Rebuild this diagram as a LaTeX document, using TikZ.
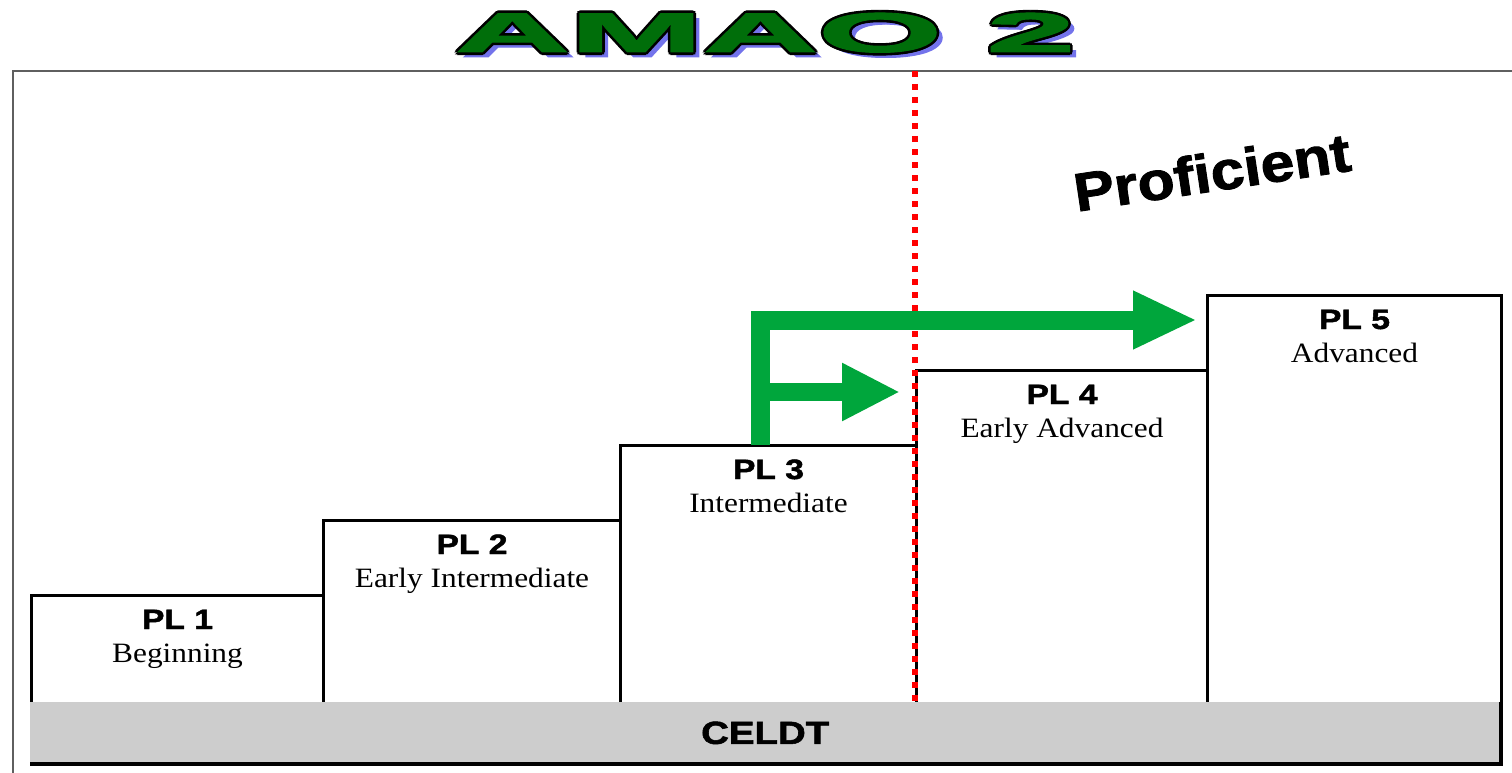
\documentclass[tikz,border=0pt]{standalone}
\usepackage{fontspec}
\setmainfont{Liberation Serif}
\setsansfont{Liberation Sans}
\newfontface\blacksans{Liberation Sans Bold}[FakeBold=1.6]
\usetikzlibrary{arrows.meta,calc}
\definecolor{arrowgreen}{RGB}{0,166,60}
\definecolor{titlegreen}{RGB}{0,110,10}
\definecolor{shadowblue}{RGB}{115,115,235}
\definecolor{bargray}{RGB}{205,205,205}
\definecolor{framegray}{RGB}{95,95,95}
\newcommand\amaotext{\scalebox{2.85}[1]{AMAO 2}}
\begin{document}
\begin{tikzpicture}[x=1pt,y=-1pt,
  stepbox/.style={draw=black,line width=3pt,anchor=north west,inner sep=0pt,minimum width=#1},
  pltext/.style={anchor=base,inner sep=0pt,font=\blacksans\fontsize{28}{30}\selectfont},
  subtext/.style={anchor=base,inner sep=0pt,font=\rmfamily\fontsize{28}{30}\selectfont},
  titlefont/.style={anchor=base,inner sep=0pt,font=\blacksans\fontsize{56}{56}\selectfont},
  garrow/.style={draw=arrowgreen,line join=miter},
]
\useasboundingbox (0,0) rectangle (1512,773);
% frame
\coordinate (ftl) at (13,71);
\coordinate (ftr) at (1512,71);
\coordinate (fbl) at (13,773);
\draw[framegray,line width=2.5pt] (fbl) -- (ftl) -- (ftr);
% steps
\node[stepbox=292pt,minimum height=169pt] (s1) at (30,594) {};
\node[stepbox=297pt,minimum height=244pt] (s2) at (322,519) {};
\node[stepbox=296pt,minimum height=319pt] (s3) at (619,444) {};
\node[stepbox=291pt,minimum height=394pt] (s4) at (915,369) {};
\node[stepbox=294pt,minimum height=469pt] (s5) at (1206,294) {};
% CELDT bar
\node[fill=bargray,anchor=north west,inner sep=0pt,minimum width=1470pt,minimum height=62pt] (celdt) at (30,701.5) {};
\draw[black,line width=3pt] (celdt.south west) -- (celdt.south east) -- (celdt.north east);
\node[pltext,font=\blacksans\fontsize{32}{34}\selectfont] (celdtlabel) at ($(celdt.south)+(0,-20)$) {\scalebox{1.2}[1]{CELDT}};
% labels
\foreach \s/\n/\t in {s1/1/Beginning,s2/2/Early Intermediate,s3/3/Intermediate,s4/4/Early Advanced,s5/5/Advanced}{
  \node[pltext] (pl\n) at ($(\s.north)+(0,35)$) {\scalebox{1.2}[1]{PL \n}};
  \node[subtext] (sub\n) at ($(\s.north)+(0,68)$) {\scalebox{1.12}[1]{\t}};
}
% red dotted line
\draw[red,line width=6pt,dash pattern=on 6pt off 7pt] (s4.west |- ftl) -- (s4.west |- celdt.north);
% green arrows
\coordinate (gstart) at (760,445);
\coordinate (gtip5) at (1197,320);
\coordinate (gmid) at (760,392);
\coordinate (gtip4) at (900,392);
\draw[garrow,line width=19pt,-{Triangle[length=64pt,width=54pt]}] (gstart) |- (gtip5);
\draw[garrow,line width=18pt,-{Triangle[length=58pt,width=54pt]}] (gmid) -- (gtip4);
% Proficient
\node[inner sep=0pt,rotate=8.5,font=\blacksans\fontsize{54}{56}\selectfont] (prof) at (1212,172) {\scalebox{1.12}[1]{Proficient}};
% title
\coordinate (title) at (765,52);
\node[titlefont,text=shadowblue] (titleshadow) at ($(title)+(6,5)$) {\amaotext};
\foreach \a in {0,45,...,315}{
  \node[titlefont,text=black] at ($(title)+(\a:2.6)$) {\amaotext};
}
\node[titlefont,text=titlegreen] (titletext) at (title) {\amaotext};
\end{tikzpicture}
\end{document}
